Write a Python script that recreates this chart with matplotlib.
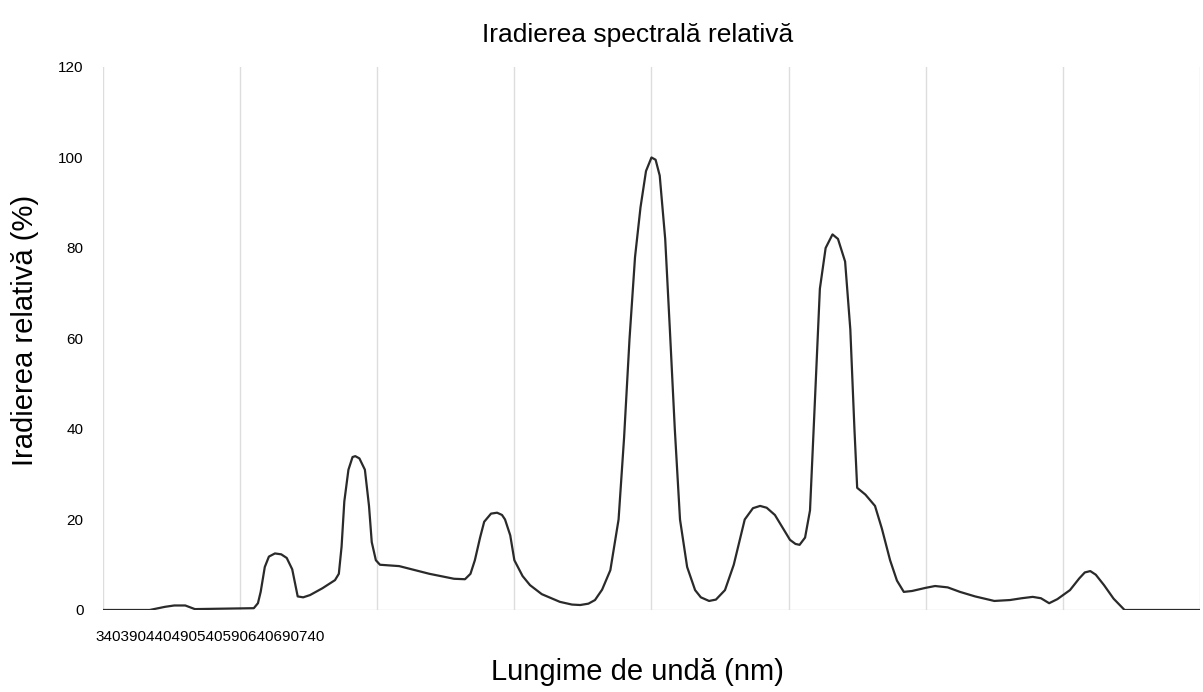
import matplotlib.pyplot as plt

plt.rcParams['font.family'] = ['Liberation Sans', 'DejaVu Sans']

# wavelength (nm) and relative irradiance (%)
wavelength = [340, 357, 362.6, 366, 370, 373.5, 395, 396.5, 397.5, 399, 400.5, 402.7, 405, 407,
              409, 410, 411, 413, 415.5, 420, 424.6, 426, 427, 428, 429.5, 431, 432,
              433.5, 435.5, 437, 438, 439.5, 441, 448, 459, 468, 472, 474, 475.6, 477.5,
              479, 481.5, 483.7, 485.5, 486.6, 488.5, 490, 493, 495.7, 500, 506.6, 511, 514,
              517, 519.4, 522, 525, 528, 530, 532, 534, 536, 538, 540, 541.5, 543, 545,
              546.7, 548.5, 550.4, 553, 555.9, 558, 561, 563.5, 566.8, 570, 574, 577, 579.6,
              582, 585, 588, 590.5, 592.5, 594, 596, 597.8, 599.5, 601.4, 603.5, 606, 608,
              610.6, 612.5, 614, 615, 618, 621.5, 624, 627, 629.5, 632, 635, 640, 643.4,
              648, 652.5, 658, 665, 670.7, 675, 679, 682, 685, 688, 692.6, 696, 698, 700,
              702, 705, 708.5, 712.5, 740]
irradiance = [0, 0, 0.7, 1, 1, 0.2, 0.4, 1.5, 4, 9.5, 11.8, 12.5, 12.3, 11.5,
              9, 6, 3, 2.8, 3.3, 4.8, 6.6, 8, 14, 24, 31, 33.8, 34,
              33.5, 31, 23, 15, 11, 10, 9.7, 8, 6.9, 6.8, 8, 11, 16,
              19.5, 21.3, 21.5, 21, 20, 16.5, 11, 7.5, 5.5, 3.5, 1.8, 1.2, 1.1,
              1.4, 2.2, 4.5, 8.8, 20, 38, 60, 78, 89, 97, 100, 99.5, 96, 82,
              62, 40, 20, 9.5, 4.4, 2.8, 2, 2.3, 4.4, 10, 20, 22.5, 23,
              22.6, 21, 18, 15.5, 14.6, 14.4, 16, 22, 45, 71, 80, 83, 82,
              77, 62, 40, 27, 25.5, 23, 18, 11, 6.5, 4, 4.2, 4.9, 5.3,
              5, 4, 3, 2, 2.2, 2.6, 2.9, 2.6, 1.5, 2.4, 4.4, 7, 8.3, 8.6,
              7.8, 5.5, 2.5, 0, 0]
tick_text = '340390440490540590640690740'
y_ticks = [0, 20, 40, 60, 80, 100, 120]

fig = plt.figure(figsize=(12.03, 6.92), dpi=100)
ax = fig.add_axes([0.0856, 0.1185, 0.9119, 0.7847])
ax.plot(wavelength, irradiance, color='#2a2a2a', linewidth=1.6,
        solid_joinstyle='round')
ax.set_xlim(340, 740)
ax.set_ylim(0, 120)
ax.set_xticks(range(340, 741, 50))
ax.set_xticklabels([])
ax.set_yticks(y_ticks)
ax.tick_params(length=0, labelsize=11, pad=14)
ax.grid(True, axis='x', color='#dddddd', linewidth=1)
for s in ax.spines.values():
    s.set_visible(False)
ax.axhline(0, color='#dddddd', linewidth=1, zorder=0)

fig.text(95 / 1203, 1 - 637 / 692, tick_text, fontsize=11, va='center', ha='left')
fig.text(0.53, 1 - 35 / 692, 'Iradierea spectrală relativă', fontsize=19, ha='center', va='center')
fig.text(0.53, 1 - 672 / 692, 'Lungime de undă (nm)', fontsize=21, ha='center', va='center')
fig.text(25 / 1203, 1 - 330 / 692, 'Iradierea relativă (%)', fontsize=21, rotation=90,
         ha='center', va='center')

fig.savefig('out.png', dpi=100)
